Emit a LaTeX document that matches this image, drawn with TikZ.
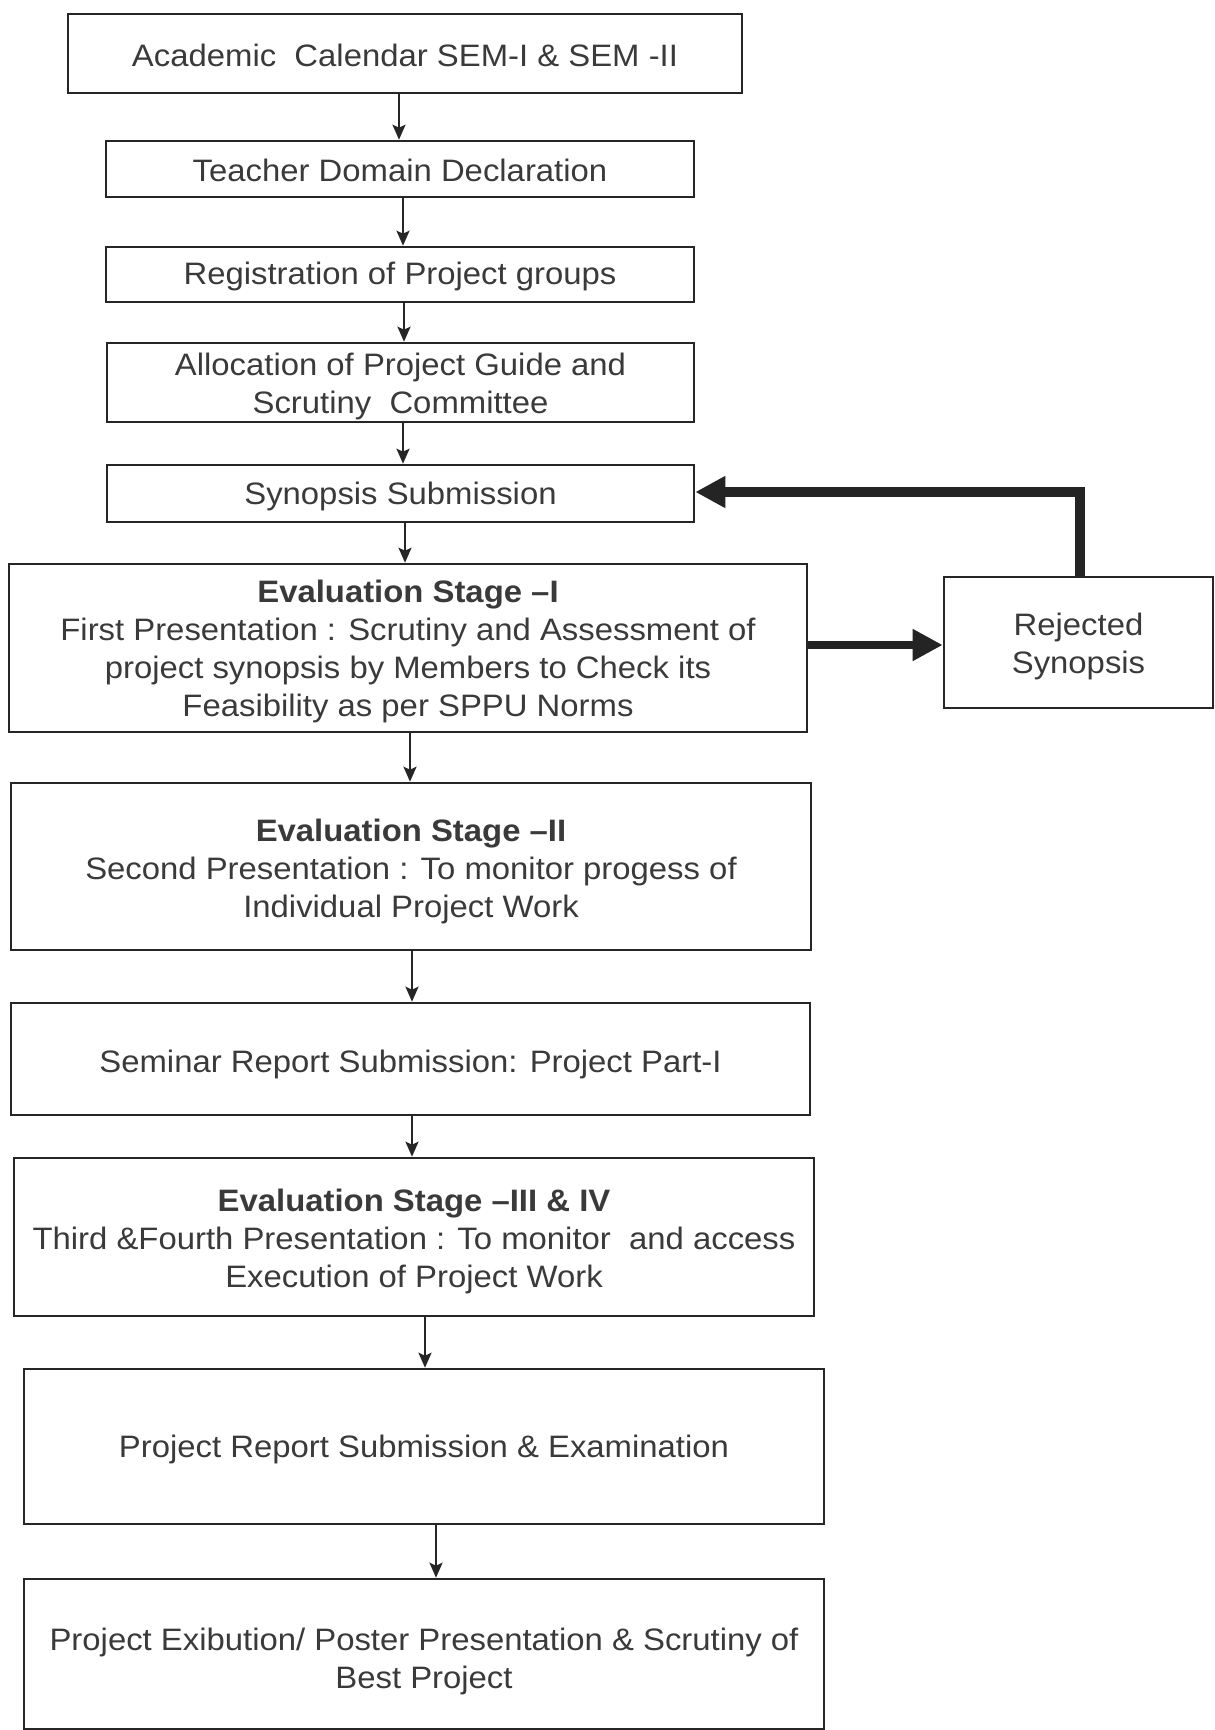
\documentclass[tikz,border=0pt]{standalone}
\usepackage{fontspec}
\setmainfont[FakeStretch=1.06]{Liberation Sans}
\usetikzlibrary{arrows.meta}
\definecolor{ink}{HTML}{262626}
\definecolor{txt}{HTML}{3A3A3A}
\begin{document}
\begin{tikzpicture}[x=0.5pt,y=-0.5pt,
  box/.style={draw=ink, line width=1.3pt, rectangle, inner sep=0pt},
  lbl/.style={align=center, inner sep=0pt, text=txt, font=\fontsize{15.5pt}{19pt}\selectfont},
  thin/.style={draw=ink, line width=1.2pt, -{Stealth[length=7.5pt,width=6.5pt,inset=1.5pt]}},
  thick/.style={draw=ink!95!black, line width=4.6pt, -{Triangle[length=15pt,width=15pt]}}]
\useasboundingbox (0,0) rectangle (1215,1730);
\fill[white] (0,0) rectangle (1215,1730);

\node[box, minimum width=337pt, minimum height=39.5pt] (b1) at (405,53.5) {};
\node[box, minimum width=294pt, minimum height=28pt] (b2) at (400,169) {};
\node[box, minimum width=294pt, minimum height=27.5pt] (b3) at (400,274.5) {};
\node[box, minimum width=293.5pt, minimum height=39.5pt] (b4) at (400.5,382.5) {};
\node[box, minimum width=293.5pt, minimum height=28.5pt] (b5) at (400.5,493.5) {};
\node[box, minimum width=399pt, minimum height=84pt] (b6) at (408,648) {};
\node[box, minimum width=134.5pt, minimum height=65.5pt] (rej) at (1078.5,642.5) {};
\node[box, minimum width=400pt, minimum height=83.5pt] (b7) at (411,866.5) {};
\node[box, minimum width=399.5pt, minimum height=56pt] (b8) at (410.5,1059) {};
\node[box, minimum width=400pt, minimum height=79pt] (b9) at (414,1237) {};
\node[box, minimum width=400pt, minimum height=77.5pt] (b10) at (424,1446.5) {};
\node[box, minimum width=400pt, minimum height=75pt] (b11) at (424,1654) {};

\node[lbl] (t1) at ([yshift=-1.2pt]b1.center) {Academic~~Calendar SEM-I \& SEM -II};
\node[lbl] (t2) at ([yshift=-0.8pt]b2.center) {Teacher Domain Declaration};
\node[lbl] (t3) at ([yshift=-1.2pt]b3.center) {Registration of Project groups};
\node[lbl] (t4) at ([yshift=-2pt]b4.center) {Allocation of Project Guide and\\Scrutiny~~Committee};
\node[lbl] (t5) at ([yshift=-1.7pt]b5.center) {Synopsis Submission};
\node[lbl] (t6) at ([yshift=-1.8pt]b6.center) {\textbf{Evaluation Stage –I}\\First Presentation : Scrutiny and Assessment of\\project synopsis by Members to Check its\\Feasibility as per SPPU Norms};
\node[lbl] (tr) at ([yshift=-2pt]rej.center) {Rejected\\Synopsis};
\node[lbl] (t7) at ([yshift=-2.6pt]b7.center) {\textbf{Evaluation Stage –II}\\Second Presentation : To monitor progess of\\Individual Project Work};
\node[lbl] (t8) at ([yshift=-2.6pt]b8.center) {Seminar Report Submission: Project Part-I};
\node[lbl] (t9) at ([yshift=-2.2pt]b9.center) {\textbf{Evaluation Stage –III \& IV}\\Third \&Fourth Presentation : To monitor~~and access\\Execution of Project Work};
\node[lbl] (t10) at ([yshift=-1.7pt]b10.center) {Project Report Submission \& Examination};
\node[lbl] (t11) at ([yshift=-3.8pt]b11.center) {Project Exibution/ Poster Presentation \& Scrutiny of\\Best Project};

\draw[thin] (b1.south -| 399,0) -- (b2.north -| 399,0);
\draw[thin] (b2.south -| 403,0) -- (b3.north -| 403,0);
\draw[thin] (b3.south -| 404,0) -- (b4.north -| 404,0);
\draw[thin] (b4.south -| 403,0) -- (b5.north -| 403,0);
\draw[thin] (b5.south -| 405,0) -- (b6.north -| 405,0);
\draw[thin] (b6.south -| 410,0) -- (b7.north -| 410,0);
\draw[thin] (b7.south -| 412,0) -- (b8.north -| 412,0);
\draw[thin] (b8.south -| 412,0) -- (b9.north -| 412,0);
\draw[thin] (b9.south -| 425,0) -- (b10.north -| 425,0);
\draw[thin] (b10.south -| 436,0) -- (b11.north -| 436,0);

\draw[thick, line width=4.2pt] (b6.east |- 0,645) -- (rej.west |- 0,645);
\draw[thick, line join=miter] (rej.north -| 1080,0) -- (1080,492) -- (b5.east |- 0,492);
\end{tikzpicture}
\end{document}
